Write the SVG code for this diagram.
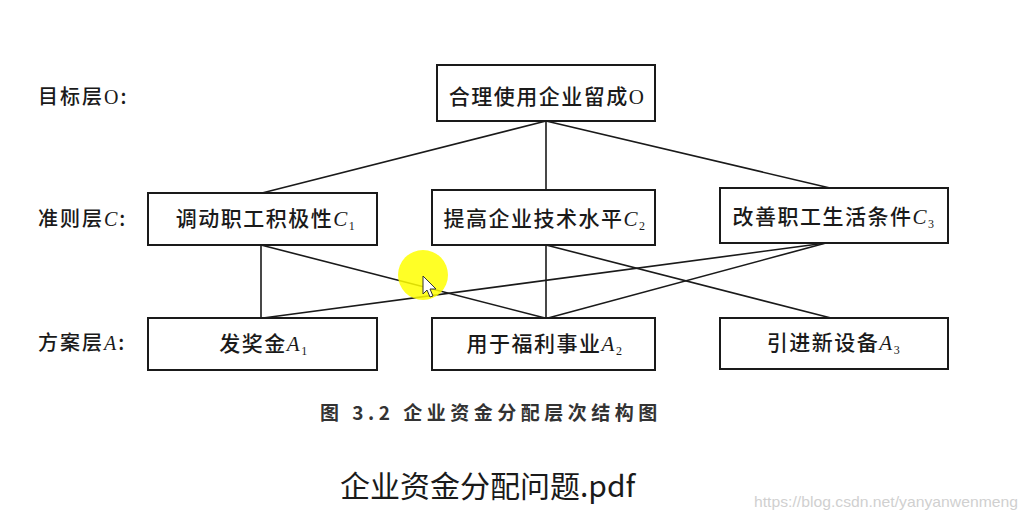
<svg xmlns="http://www.w3.org/2000/svg" width="1029" height="521" viewBox="0 0 1029 521">
<style>
.box{fill:#fff;stroke:#1a1a1a;stroke-width:2}
.t{font-family:"Noto Sans CJK SC","Liberation Sans",sans-serif;font-size:21px;font-weight:500;fill:#1a1a1a;letter-spacing:1.5px}
.lbl{font-family:"Noto Sans CJK SC","Liberation Sans",sans-serif;font-size:20px;font-weight:500;fill:#1a1a1a;letter-spacing:2px}
.it{font-family:"Liberation Serif",serif;font-style:italic}
.sub{font-family:"Liberation Serif",serif;font-size:12px}
.ln{stroke:#1a1a1a;stroke-width:1.6;fill:none}
</style>
<rect width="1029" height="521" fill="#fff"/>
<g id="layer-labels">
<text class="lbl" x="38" y="104">目标层<tspan font-family="Liberation Serif,serif">O</tspan>:</text>
<text class="lbl" x="38" y="226">准则层<tspan class="it">C</tspan>:</text>
<text class="lbl" x="38" y="350">方案层<tspan class="it">A</tspan>:</text>
</g>
<g id="connectors">
<line class="ln" x1="546" y1="121" x2="262" y2="193"/>
<line class="ln" x1="546" y1="121" x2="546" y2="190"/>
<line class="ln" x1="546" y1="121" x2="830" y2="188"/>
<line class="ln" x1="261" y1="245" x2="261" y2="318"/>
<line class="ln" x1="261" y1="245" x2="545" y2="318"/>
<line class="ln" x1="546" y1="245" x2="546" y2="318"/>
<line class="ln" x1="546" y1="245" x2="831" y2="318"/>
<line class="ln" x1="826" y1="243" x2="263" y2="318"/>
<line class="ln" x1="826" y1="243" x2="548" y2="318"/>
</g>
<g id="O">
<rect class="box" x="437" y="65" width="218" height="56"/>
<text class="t" x="547" y="104" text-anchor="middle">合理使用企业留成<tspan font-family="Liberation Serif,serif">O</tspan></text>
</g>
<g id="C1">
<rect class="box" x="148" y="193" width="229" height="52"/>
<text class="t" x="266" y="226" text-anchor="middle">调动职工积极性<tspan class="it">C</tspan><tspan class="sub" dy="4">1</tspan></text>
</g>
<g id="C2">
<rect class="box" x="432" y="190" width="223" height="55"/>
<text class="t" x="545" y="226" text-anchor="middle">提高企业技术水平<tspan class="it">C</tspan><tspan class="sub" dy="4">2</tspan></text>
</g>
<g id="C3">
<rect class="box" x="720" y="188" width="228" height="55"/>
<text class="t" x="834" y="224" text-anchor="middle">改善职工生活条件<tspan class="it">C</tspan><tspan class="sub" dy="4">3</tspan></text>
</g>
<g id="A1">
<rect class="box" x="148" y="318" width="229" height="52"/>
<text class="t" x="264" y="351" text-anchor="middle">发奖金<tspan class="it">A</tspan><tspan class="sub" dy="4">1</tspan></text>
</g>
<g id="A2">
<rect class="box" x="432" y="318" width="223" height="52"/>
<text class="t" x="545" y="351" text-anchor="middle">用于福利事业<tspan class="it">A</tspan><tspan class="sub" dy="4">2</tspan></text>
</g>
<g id="A3">
<rect class="box" x="720" y="318" width="228" height="51"/>
<text class="t" x="834" y="350" text-anchor="middle">引进新设备<tspan class="it">A</tspan><tspan class="sub" dy="4">3</tspan></text>
</g>
<text x="320" y="420" font-family="Noto Sans CJK SC,sans-serif" font-size="19" font-weight="bold" fill="#333" letter-spacing="4.5">图 3.2  企业资金分配层次结构图</text>
<text x="340" y="497" font-family="Noto Sans CJK SC,sans-serif" font-size="30" fill="#1a1a1a">企业资金分配问题.pdf</text>
<text x="754" y="507" font-family="Liberation Sans,sans-serif" font-size="15" fill="#d0d0d0" textLength="264" lengthAdjust="spacingAndGlyphs">https://blog.csdn.net/yanyanwenmeng</text>
<circle cx="423" cy="275" r="25" fill="#ffff00" opacity="0.85"/>
<path d="M423,276 L423,294 L427,290 L430,297 L433,296 L430,289 L436,289 Z" fill="#fff" stroke="#333" stroke-width="1"/>
</svg>
